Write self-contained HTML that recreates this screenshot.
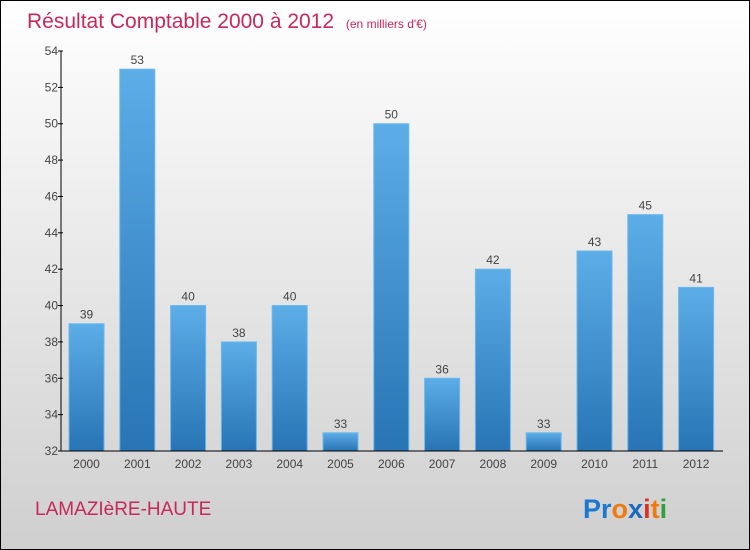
<!DOCTYPE html>
<html><head><meta charset="utf-8"><style>
body{margin:0}
#c{width:750px;height:550px;position:relative;box-sizing:border-box;border:1px solid #000;background:linear-gradient(#ffffff,#cfcfcf);font-family:"Liberation Sans",sans-serif;overflow:hidden}
</style></head><body>
<div id="c">
<svg id="s" width="750" height="550" style="position:absolute;left:0;top:0">
<defs><linearGradient id="g" x1="0" y1="0" x2="0" y2="1"><stop offset="0" stop-color="#5cade8"/><stop offset="1" stop-color="#2874b4"/></linearGradient></defs>
<text x="26" y="27" font-size="21" fill="#c8285a">Résultat Comptable 2000 à 2012 <tspan font-size="12" dx="6">(en milliers d'€)</tspan></text>
<text x="34" y="514" font-size="19" fill="#c8285a">LAMAZIèRE-HAUTE</text>
<text x="582" y="517" font-size="27" font-weight="bold"><tspan fill="#1a78d0">Pr</tspan><tspan fill="#f07a10">o</tspan><tspan fill="#1a68c0">x</tspan><tspan fill="#e03020">i</tspan><tspan fill="#f07a10">t</tspan><tspan fill="#30a040">i</tspan></text>
</svg>
</div>
<script>
const years=["2000","2001","2002","2003","2004","2005","2006","2007","2008","2009","2010","2011","2012"];
const values=[39,53,40,38,40,33,50,36,42,33,43,45,41];
const yTicks=[32,34,36,38,40,42,44,46,48,50,52,54];
const s=document.getElementById('s');const NS='http://www.w3.org/2000/svg';
const x0=60,x1=722,yMin=32,yMax=54,py0=450,py1=50;
function y(v){return py0-(v-yMin)/(yMax-yMin)*(py0-py1);}
function xc(i){return 85.5+i*50.8;}
function el(t,a,p){const e=document.createElementNS(NS,t);for(const k in a)e.setAttribute(k,a[k]);(p||s).appendChild(e);return e;}
values.forEach((v,i)=>{
const r=el('rect',{x:xc(i)-17.5,y:y(v),width:35,height:py0-y(v),fill:'url(#g)',stroke:'#6ab8ee','stroke-width':1});


const t=el('text',{x:xc(i),y:y(v)-5,'text-anchor':'middle','font-size':12,fill:'#444'});t.textContent=v;


const xl=el('text',{x:xc(i),y:467,'text-anchor':'middle','font-size':12,fill:'#444'});xl.textContent=years[i];


});
const ya=el('line',{x1:x0,y1:py1,x2:x0,y2:py0,stroke:'#000'});


const xa=el('line',{x1:x0,y1:py0,x2:x1,y2:py0,stroke:'#000'});


yTicks.forEach(v=>{
const tk=el('line',{x1:x0-3,y1:y(v),x2:x0+2,y2:y(v),stroke:'#000'});


const t=el('text',{x:x0-3,y:y(v)+4,'text-anchor':'end','font-size':12,fill:'#444'});t.textContent=v;


});
</script>
</body></html>
